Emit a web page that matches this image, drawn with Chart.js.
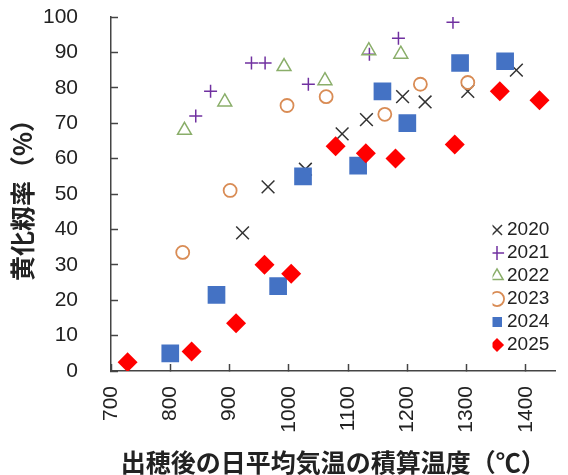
<!DOCTYPE html>
<html><head><meta charset="utf-8">
<script src="https://cdn.jsdelivr.net/npm/chart.js@4.4.1/dist/chart.umd.min.js"></script>
<style>html,body{margin:0;padding:0;background:#fff;}canvas{display:block;}</style>
</head><body>
<canvas id="c" width="568" height="475"></canvas>
<script>
const years = ['2020','2021','2022','2023','2024','2025'];
const x2020 = [922, 965, 1028, 1090, 1131, 1192, 1230, 1302, 1384];
const y2020 = [39, 52, 57, 67, 71, 77.5, 76, 79, 85];
const x2021 = [843, 868, 937, 960, 1033, 1136, 1185, 1277];
const y2021 = [72, 79, 87, 87, 81, 89.5, 94, 98.5];
const x2022 = [824, 892, 992, 1061, 1135, 1189];
const y2022 = [68, 76, 86, 82, 90.5, 89.5];
const x2023 = [821, 901, 997, 1063, 1162, 1222, 1302];
const y2023 = [33.5, 51, 75, 77.5, 72.5, 81, 81.5];
const x2024 = [800, 878, 982, 1024, 1117, 1158, 1200, 1289, 1365];
const y2024 = [5, 21.5, 24, 55, 58, 79, 70, 87, 87.5];
const x2025 = [728, 836, 911, 959, 1004, 1079, 1130, 1180, 1280, 1356, 1423];
const y2025 = [2.5, 5.5, 13.5, 30, 27.5, 63.5, 61.5, 60, 64, 79, 76.5];
const xTitle = '出穂後の日平均気温の積算温度（℃）';
const yTitle = '黄化籾率（%）';

const xs = [x2020, x2021, x2022, x2023, x2024, x2025];
const ys = [y2020, y2021, y2022, y2023, y2024, y2025];
const styles = [
  {pointStyle:'crossRot', radius:9, borderColor:'#333333', backgroundColor:'#333333', borderWidth:1.5},
  {pointStyle:'cross', radius:6.5, borderColor:'#7030A0', backgroundColor:'#7030A0', borderWidth:1.5},
  {pointStyle:'triangle', radius:8, borderColor:'#8AAE6A', backgroundColor:'rgba(0,0,0,0)', borderWidth:1.5},
  {pointStyle:'circle', radius:6.5, borderColor:'#D98C55', backgroundColor:'rgba(0,0,0,0)', borderWidth:1.8},
  {pointStyle:'rect', radius:12.5, borderColor:'#4472C4', backgroundColor:'#4472C4', borderWidth:0},
  {pointStyle:'rectRot', radius:10, borderColor:'#FF0000', backgroundColor:'#FF0000', borderWidth:0}
];
const datasets = years.map((yr, i) => ({
  label: yr,
  data: xs[i].map((x, j) => ({x: x, y: ys[i][j]})),
  pointStyle: styles[i].pointStyle,
  pointRadius: styles[i].radius,
  pointHoverRadius: styles[i].radius,
  borderColor: styles[i].borderColor,
  backgroundColor: styles[i].backgroundColor,
  borderWidth: styles[i].borderWidth,
  order: years.length - i
}));

const tickFont = {family: "'Liberation Sans', Arial, sans-serif", size: 21};
const titleFont = {family: "'Noto Sans CJK JP', sans-serif", size: 25, weight: 'bold', lineHeight: 1};

const legendPlace = {
  id: 'legendPlace',
  afterLayout(chart) {
    const lg = chart.legend;
    if (!lg) return;
    lg.left = 492.5; lg.right = 568;
    lg.top = 216.5; lg.bottom = 370;
    lg.width = lg.right - lg.left; lg.height = lg.bottom - lg.top;
  }
};

new Chart(document.getElementById('c'), {
  type: 'scatter',
  data: {datasets: datasets},
  plugins: [legendPlace],
  options: {
    responsive: false,
    animation: false,
    devicePixelRatio: 1,
    layout: {padding: {top: 17, right: 0, bottom: 0, left: 0}},
    plugins: {
      tooltip: {enabled: false},
      legend: {
        position: 'chartArea',
        align: 'start',
        labels: {
          usePointStyle: true,
          boxWidth: 1,
          boxHeight: 10,
          padding: 4,
          color: '#222',
          font: {family: "'Liberation Sans', Arial, sans-serif", size: 19},
          sort: (a, b) => a.datasetIndex - b.datasetIndex
        }
      }
    },
    scales: {
      x: {
        type: 'linear',
        min: 700, max: 1450,
        afterFit(scale) { scale.height = 104; scale.paddingLeft = 0; scale.paddingRight = 0; },
        grid: {drawOnChartArea: false, drawTicks: true, tickLength: -7, tickColor: '#444', tickWidth: 1.5},
        border: {display: true, color: '#444', width: 1.5},
        ticks: {stepSize: 100, includeBounds: false, minRotation: 90, maxRotation: 90, padding: 22, color: '#222', font: tickFont,
                callback: (v) => String(v)},
        title: {display: true, text: xTitle, color: '#222', font: titleFont, padding: {top: 0, bottom: 0}}
      },
      y: {
        type: 'linear',
        min: 0, max: 100,
        afterFit(scale) { scale.width = 111; scale.paddingTop = 0; scale.paddingBottom = 0; },
        grid: {drawOnChartArea: false, drawTicks: true, tickLength: -7, tickColor: '#444', tickWidth: 1.5},
        border: {display: true, color: '#444', width: 1.5},
        ticks: {stepSize: 10, padding: 40, color: '#222', font: tickFont, callback: (v) => String(v)},
        title: {display: true, text: yTitle, color: '#222', font: titleFont, padding: {top: 9.5, bottom: 0}}
      }
    }
  }
});
</script>
</body></html>
